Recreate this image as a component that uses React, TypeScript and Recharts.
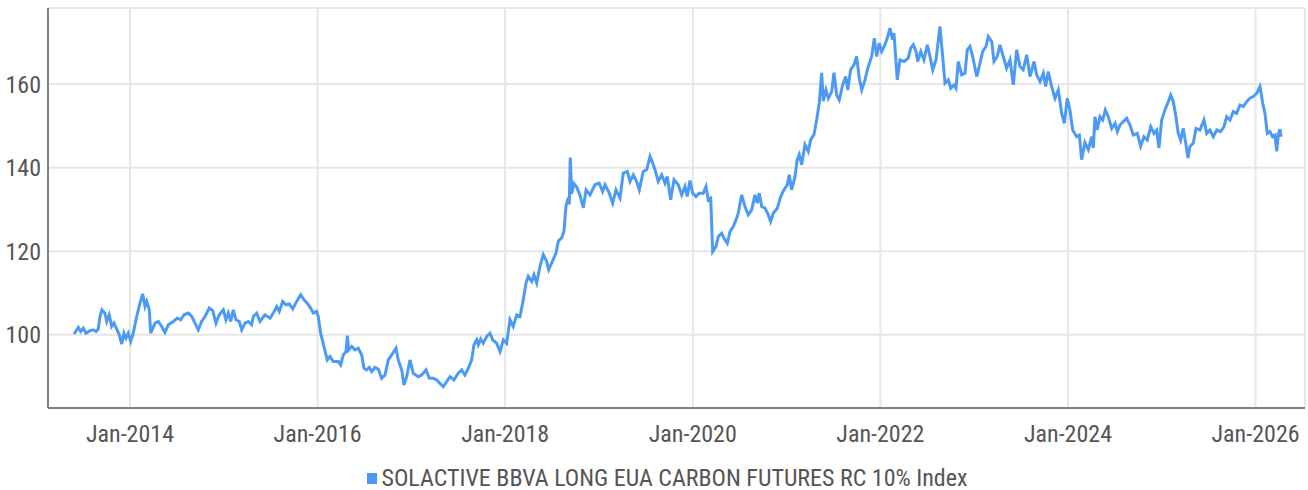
import { LineChart, Line, XAxis, YAxis, CartesianGrid, Legend } from 'recharts';

// [decimal year, index level]
const obs2013: [number, number][] = [
  [2013.403, 100.2], [2013.449, 101.8], [2013.474, 100.8], [2013.502, 101.6], [2013.531, 100.4],
  [2013.574, 101], [2013.609, 101.2], [2013.638, 100.8], [2013.662, 101.4], [2013.68, 104.4],
  [2013.701, 106], [2013.733, 105.2], [2013.752, 103.2], [2013.779, 104.8], [2013.805, 102],
  [2013.829, 102.8], [2013.858, 101.4], [2013.886, 100], [2013.912, 97.8], [2013.936, 100.4],
  [2013.957, 99.2], [2013.982, 100.4],
];
const obs2014: [number, number][] = [
  [2014.007, 98.4], [2014.035, 100.4], [2014.071, 104.4], [2014.107, 107.6], [2014.135, 109.8],
  [2014.16, 106.8], [2014.178, 108], [2014.206, 106], [2014.221, 100.4], [2014.267, 102.8],
  [2014.302, 103.2], [2014.338, 102], [2014.373, 100.6], [2014.408, 102.4], [2014.462, 103.2],
  [2014.504, 104], [2014.541, 103.6], [2014.576, 104.8], [2014.622, 105.2], [2014.658, 104.4],
  [2014.693, 102.8], [2014.728, 101.2], [2014.764, 103.2], [2014.8, 104.4], [2014.845, 106.4],
  [2014.882, 105.8], [2014.917, 102.8], [2014.952, 104.8], [2014.995, 106],
];
const obs2015: [number, number][] = [
  [2015.023, 103.6], [2015.048, 105.2], [2015.074, 103.2], [2015.101, 106], [2015.13, 103.6],
  [2015.165, 103.2], [2015.191, 101.2], [2015.226, 102.8], [2015.261, 103.2], [2015.297, 102.4],
  [2015.315, 104.4], [2015.351, 105.2], [2015.386, 103.2], [2015.439, 104.8], [2015.493, 104],
  [2015.528, 105.2], [2015.564, 106.8], [2015.592, 105.6], [2015.628, 108], [2015.663, 107.2],
  [2015.698, 107.4], [2015.735, 106.2], [2015.777, 108], [2015.82, 109.6], [2015.855, 108.4],
  [2015.89, 107.6], [2015.926, 106.4], [2015.954, 105.2], [2015.99, 105.6],
];
const obs2016: [number, number][] = [
  [2016.007, 104.4], [2016.033, 100.4], [2016.068, 97.2], [2016.103, 94], [2016.132, 94.8],
  [2016.167, 93.6], [2016.221, 93.6], [2016.246, 92.8], [2016.274, 95.2], [2016.303, 96],
  [2016.317, 99.8], [2016.332, 96.4], [2016.364, 97.2], [2016.399, 96.4], [2016.434, 96.8],
  [2016.47, 95.2], [2016.495, 92], [2016.523, 91.6], [2016.551, 92.2], [2016.577, 91.2],
  [2016.612, 92.2], [2016.647, 91.8], [2016.683, 89.6], [2016.719, 90.4], [2016.754, 94],
  [2016.79, 95.2], [2016.836, 96.8], [2016.86, 94], [2016.897, 91.6], [2016.921, 88],
  [2016.95, 90], [2016.985, 94],
];
const obs2017: [number, number][] = [
  [2017.02, 90.8], [2017.074, 90], [2017.11, 90.4], [2017.156, 91.6], [2017.191, 89.6],
  [2017.234, 89.6], [2017.27, 89.2], [2017.305, 88.4], [2017.34, 87.6], [2017.376, 88.8],
  [2017.412, 90], [2017.454, 89.2], [2017.5, 90.8], [2017.536, 91.6], [2017.571, 90.4],
  [2017.607, 92], [2017.643, 94], [2017.667, 97.6], [2017.696, 98.8], [2017.713, 97.6],
  [2017.739, 99], [2017.767, 98], [2017.803, 99.6], [2017.838, 100.4], [2017.867, 98.8],
  [2017.909, 98], [2017.945, 96], [2017.98, 98.8],
];
const obs2018: [number, number][] = [
  [2018.016, 98], [2018.051, 103.6], [2018.086, 102], [2018.123, 104.8], [2018.158, 104.4],
  [2018.193, 108.4], [2018.222, 112.4], [2018.246, 114], [2018.283, 112.8], [2018.307, 114.4],
  [2018.336, 112.4], [2018.371, 116.4], [2018.406, 119.2], [2018.442, 117.6], [2018.464, 115.6],
  [2018.496, 117.2], [2018.542, 119.6], [2018.566, 122.4], [2018.602, 123.2], [2018.627, 124.8],
  [2018.648, 130.8], [2018.673, 132.8], [2018.683, 131.2], [2018.694, 142.4], [2018.709, 133.8],
  [2018.733, 136.2], [2018.762, 135.4], [2018.797, 133.4], [2018.833, 130.4], [2018.862, 134.7],
  [2018.904, 133.5], [2018.957, 135.9],
];
const obs2019: [number, number][] = [
  [2019.003, 136.3], [2019.039, 134.3], [2019.064, 135.9], [2019.11, 133.9], [2019.146, 131.5],
  [2019.181, 134.7], [2019.224, 132.7], [2019.259, 138.7], [2019.302, 139.1], [2019.331, 136.7],
  [2019.366, 138.3], [2019.402, 136.7], [2019.43, 134.7], [2019.472, 139.1], [2019.509, 139.5],
  [2019.544, 142.7], [2019.572, 141.1], [2019.597, 139.5], [2019.632, 136.7], [2019.668, 138.3],
  [2019.704, 136.3], [2019.728, 137.9], [2019.764, 132.3], [2019.8, 137.1], [2019.845, 135.9],
  [2019.882, 133.5], [2019.917, 135.5], [2019.941, 133.1], [2019.97, 136.9], [2019.999, 133.9],
];
const obs2020: [number, number][] = [
  [2020.034, 133.1], [2020.069, 133.9], [2020.112, 133.9], [2020.141, 135.5], [2020.165, 132.3],
  [2020.191, 132.7], [2020.212, 119.9], [2020.247, 121.1], [2020.272, 123.5], [2020.308, 124.3],
  [2020.343, 122.7], [2020.368, 121.9], [2020.397, 124.7], [2020.432, 125.9], [2020.461, 127.5],
  [2020.485, 129.1], [2020.521, 133.5], [2020.556, 130.7], [2020.592, 128.7], [2020.628, 129.9],
  [2020.663, 133.5], [2020.688, 131.5], [2020.709, 133.9], [2020.735, 130.7], [2020.77, 130.3],
  [2020.805, 128.7], [2020.83, 127.1], [2020.858, 129.1], [2020.901, 130.3], [2020.937, 133.1],
  [2020.972, 134.7],
];
const obs2021: [number, number][] = [
  [2021.008, 135.9], [2021.029, 138.3], [2021.054, 134.7], [2021.09, 137.9], [2021.114, 141.9],
  [2021.135, 143.1], [2021.161, 140.7], [2021.196, 145.5], [2021.231, 143.9], [2021.257, 146.7],
  [2021.292, 147.9], [2021.321, 151.5], [2021.349, 155.5], [2021.374, 162.7], [2021.391, 155.9],
  [2021.42, 158.6], [2021.445, 156.6], [2021.481, 158.2], [2021.505, 162.7], [2021.534, 157.4],
  [2021.562, 156.2], [2021.598, 159.8], [2021.63, 161.8], [2021.652, 158.6], [2021.683, 163.4],
  [2021.719, 164.6], [2021.747, 166.6], [2021.775, 161.4], [2021.801, 158.6], [2021.836, 161],
  [2021.871, 164.2], [2021.907, 166.6], [2021.935, 171], [2021.961, 166.6], [2021.988, 169.8],
];
const obs2022: [number, number][] = [
  [2022.014, 167.8], [2022.049, 169.4], [2022.074, 171], [2022.102, 173.4], [2022.129, 170.6],
  [2022.145, 172.2], [2022.18, 161], [2022.209, 165.8], [2022.252, 165.4], [2022.297, 166.2],
  [2022.323, 168.6], [2022.351, 169.4], [2022.38, 167.8], [2022.398, 165.4], [2022.43, 167.8],
  [2022.465, 165.8], [2022.5, 169.4], [2022.529, 166.6], [2022.558, 163.4], [2022.593, 165.8],
  [2022.635, 173.8], [2022.664, 166.6], [2022.689, 160.2], [2022.724, 161], [2022.75, 159],
  [2022.785, 159.8], [2022.806, 159], [2022.831, 165.4], [2022.867, 162.2], [2022.902, 162.6],
  [2022.926, 168.2], [2022.955, 169], [2022.984, 166.6],
];
const obs2023: [number, number][] = [
  [2023.027, 161.8], [2023.062, 165], [2023.091, 167.8], [2023.126, 169], [2023.15, 171.4],
  [2023.187, 170.2], [2023.211, 165.4], [2023.246, 166.6], [2023.275, 169.4], [2023.31, 166.6],
  [2023.346, 163.8], [2023.382, 165.8], [2023.417, 159.8], [2023.453, 168.2], [2023.488, 164.2],
  [2023.523, 163.4], [2023.56, 167], [2023.595, 161.8], [2023.638, 165.4], [2023.666, 162.2],
  [2023.702, 160.6], [2023.737, 162.6], [2023.762, 159.4], [2023.79, 163], [2023.826, 159.4],
  [2023.862, 156.6], [2023.897, 158.6], [2023.933, 153], [2023.961, 150.6], [2023.993, 156.6],
];
const obs2024: [number, number][] = [
  [2024.021, 153.8], [2024.05, 149], [2024.093, 147.4], [2024.121, 147.8], [2024.146, 141.9],
  [2024.181, 146], [2024.217, 144.3], [2024.253, 147.4], [2024.27, 144.7], [2024.288, 152.2],
  [2024.312, 149], [2024.341, 152.2], [2024.37, 151.4], [2024.398, 153.8], [2024.43, 152.2],
  [2024.466, 149.4], [2024.502, 150.6], [2024.526, 148.6], [2024.554, 150.2], [2024.59, 151],
  [2024.626, 151.8], [2024.661, 150.2], [2024.696, 147.8], [2024.739, 148.2], [2024.775, 145.1],
  [2024.81, 147.4], [2024.846, 146.6], [2024.882, 149.8], [2024.917, 148.2], [2024.946, 149],
  [2024.97, 144.7], [2024.999, 151.4],
];
const obs2025: [number, number][] = [
  [2025.034, 153.8], [2025.063, 155.4], [2025.095, 157.4], [2025.123, 155.8], [2025.151, 152.2],
  [2025.176, 148.2], [2025.201, 146.6], [2025.229, 149.4], [2025.258, 145.5], [2025.279, 142.3],
  [2025.301, 145.1], [2025.336, 145.9], [2025.365, 149.4], [2025.407, 149], [2025.45, 151.4],
  [2025.479, 148.2], [2025.514, 149], [2025.549, 147.4], [2025.586, 149], [2025.628, 148.6],
  [2025.663, 149.8], [2025.692, 152.2], [2025.727, 151.4], [2025.762, 153.4], [2025.798, 153],
  [2025.834, 155], [2025.869, 154.6], [2025.905, 155.8], [2025.94, 156.6], [2025.975, 157],
];
const obs2026: [number, number][] = [
  [2026.012, 157.8], [2026.047, 159.4], [2026.076, 155.4], [2026.1, 153], [2026.125, 148.2],
  [2026.153, 148.6], [2026.182, 147.4], [2026.207, 147.8], [2026.225, 143.9], [2026.242, 147.8],
  [2026.26, 149.2], [2026.271, 147.4],
];

const xTicks = [2014, 2016, 2018, 2020, 2022, 2024, 2026];
const yTicks = [100, 120, 140, 160];
const seriesName = 'SOLACTIVE BBVA LONG EUA CARBON FUTURES RC 10% Index';

const data = [
  ...obs2013, ...obs2014, ...obs2015, ...obs2016, ...obs2017, ...obs2018, ...obs2019,
  ...obs2020, ...obs2021, ...obs2022, ...obs2023, ...obs2024, ...obs2025, ...obs2026,
].map(([t, v]) => ({ t, v }));

const FONT = "'Liberation Sans Narrow', 'Roboto Condensed', 'DejaVu Sans Condensed', sans-serif";
const BLUE = '#4d9af6';

const LegendBox = () => (
  <div
    style={{
      display: 'flex',
      justifyContent: 'center',
      alignItems: 'center',
      fontFamily: FONT,
      fontSize: 24,
      lineHeight: '22px',
      height: 22,
      color: '#555',
      paddingLeft: 30,
      paddingTop: 3,
    }}
  >
    <span style={{ width: 10, height: 11, background: BLUE, marginRight: 4, display: 'inline-block' }} />
    <span>{seriesName}</span>
  </div>
);

export default function App() {
  return (
    <div style={{ position: 'absolute', left: 0, top: 0, background: '#fff' }}>
      <LineChart width={1308} height={490} data={data} margin={{ top: 8, right: 3, left: 0, bottom: 0 }}>
        <CartesianGrid stroke="#e6e6e6" strokeWidth={2} />
        <XAxis
          dataKey="t"
          type="number"
          domain={[2013.126, 2026.527]}
          ticks={xTicks}
          tickFormatter={(v: number) => `Jan-${v}`}
          allowDataOverflow
          height={56}
          stroke="#808080"
          strokeWidth={2}
          tickLine={false}
          tickSize={0}
          tickMargin={17}
          tick={{ fill: '#555', fontSize: 24, fontFamily: FONT }}
        />
        <YAxis
          type="number"
          domain={[82.5, 178.2]}
          ticks={yTicks}
          allowDataOverflow
          width={48}
          stroke="#808080"
          strokeWidth={2}
          tickLine={false}
          tickSize={0}
          tickMargin={7}
          tick={{ fill: '#555', fontSize: 24, fontFamily: FONT }}
        />
        <Legend verticalAlign="bottom" height={26} content={<LegendBox />} />
        <Line
          type="linear"
          dataKey="v"
          name={seriesName}
          stroke={BLUE}
          strokeWidth={3}
          dot={false}
          isAnimationActive={false}
        />
      </LineChart>
    </div>
  );
}
